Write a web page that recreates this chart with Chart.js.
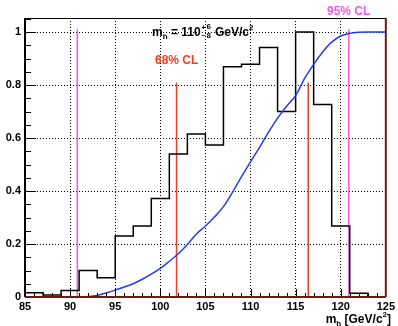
<!DOCTYPE html>
<html>
<head>
<meta charset="utf-8">
<script src="https://cdn.jsdelivr.net/npm/chart.js@4"></script>
<style>
  html, body { margin: 0; padding: 0; background: #fff; }
  canvas { display: block; }
</style>
</head>
<body>
<canvas id="chart" width="398" height="326"></canvas>
<script>
// histogram: left bin edges (2 GeV bins) and heights
const binEdges = [85, 87, 89, 91, 93, 95, 97, 99, 101, 103, 105, 107, 109, 111, 113, 115, 117, 119, 121, 123];
const binValues = [0.016, 0.008, 0.025, 0.10, 0.073, 0.23, 0.268, 0.372, 0.54, 0.615, 0.574, 0.869, 0.878, 0.942, 0.70, 1.0, 0.727, 0.268, 0.014, 0];
const xMax = 125;

// cumulative curve
const curveX = [91.5, 92, 93, 94, 95, 96, 97, 98, 99, 100, 101, 102, 103, 104, 105, 106, 107, 108, 109, 110, 111, 112, 113, 114, 115, 116, 117, 118, 119, 120, 121, 122, 123, 124, 125];
const curveY = [0, 0.002, 0.006, 0.015, 0.026, 0.038, 0.05, 0.067, 0.086, 0.108, 0.135, 0.163, 0.198, 0.238, 0.268, 0.302, 0.341, 0.395, 0.454, 0.51, 0.565, 0.622, 0.675, 0.72, 0.76, 0.825, 0.878, 0.925, 0.962, 0.985, 0.995, 0.999, 1.0, 1.0, 1.0];

// confidence limits
const cl68 = [101.8, 116.4];
const cl68Height = 0.81;
const cl95 = [90.8, 120.9];
const cl95Height = 1.01;

const xTicks = [85, 90, 95, 100, 105, 110, 115, 120, 125];
const yTicks = [0, 0.2, 0.4, 0.6, 0.8, 1];

const font = '"Liberation Sans", Arial, sans-serif';
const red = '#ff3a1c';
const magenta = '#f255f2';

const histData = binEdges.map((x, i) => ({ x: x, y: binValues[i] }));
histData.push({ x: xMax, y: binValues[binValues.length - 1] });

function vline(x, h, color) {
    return {
        data: [{ x: x, y: 0 }, { x: x, y: h }],
        borderColor: color,
        borderWidth: 1.5,
        pointRadius: 0,
        order: 3
    };
}

// draws text pieces in sequence: [text, size, dy, noAdvance]
function drawPieces(ctx, pieces, x, y) {
    let cx = x;
    pieces.forEach(p => {
        ctx.font = 'bold ' + p[1] + 'px ' + font;
        ctx.fillText(p[0], cx, y + (p[2] || 0));
        if (!p[3]) cx += ctx.measureText(p[0]).width;
    });
    return cx;
}
function piecesWidth(ctx, pieces) {
    let w = 0;
    pieces.forEach(p => {
        ctx.font = 'bold ' + p[1] + 'px ' + font;
        if (!p[3]) w += ctx.measureText(p[0]).width;
    });
    return w;
}

const rootFrame = {
    id: 'rootFrame',
    afterDatasetsDraw(chart) {
        const ctx = chart.ctx;
        const a = chart.chartArea;
        const xs = chart.scales.x, ys = chart.scales.y;
        ctx.save();
        // minor + major ticks pointing inward
        ctx.strokeStyle = '#000';
        ctx.lineWidth = 1;
        ctx.beginPath();
        for (let v = 86; v < 125; v++) {
            const px = Math.round(xs.getPixelForValue(v)) + 0.5;
            const len = v % 5 === 0 ? 8 : 4;
            ctx.moveTo(px, a.bottom);
            ctx.lineTo(px, a.bottom - len);
        }
        for (let k = 1; k <= 21; k++) {
            const v = k * 0.05;
            const py = Math.round(ys.getPixelForValue(v)) + 0.5;
            const len = k % 4 === 0 ? 11 : 6;
            ctx.moveTo(a.left, py);
            ctx.lineTo(a.left + len, py);
        }
        ctx.stroke();
        // frame
        ctx.lineWidth = 1;
        ctx.beginPath();
        ctx.moveTo(a.left, a.top + 0.5);
        ctx.lineTo(a.right, a.top + 0.5);
        ctx.stroke();
        ctx.lineWidth = 2;
        ctx.beginPath();
        ctx.moveTo(a.left, a.top);
        ctx.lineTo(a.left, a.bottom);
        ctx.stroke();
        ctx.strokeStyle = '#6a1e12';
        ctx.beginPath();
        ctx.moveTo(a.left, a.bottom);
        ctx.lineTo(a.right, a.bottom);
        ctx.moveTo(a.right, a.top);
        ctx.lineTo(a.right, a.bottom);
        ctx.stroke();

        // texts
        ctx.textBaseline = 'alphabetic';
        ctx.textAlign = 'left';
        ctx.fillStyle = '#000';
        let cx = drawPieces(ctx, [['m', 12], ['h', 8, 3], [' = 110', 12]], 152, 36);
        drawPieces(ctx, [['+', 7, -6, true], ['\u2013', 7, 1]], cx + 1, 36);
        cx += 6;
        drawPieces(ctx, [['6', 8, -7, true], ['8', 8, 2]], cx, 36);
        drawPieces(ctx, [[' GeV/c', 12], ['2', 8, -6]], cx + 5, 36);

        ctx.fillStyle = red;
        ctx.font = 'bold 12px ' + font;
        ctx.fillText('68% CL', 155, 64);
        ctx.fillStyle = magenta;
        ctx.fillText('95% CL', 327, 15);

        ctx.fillStyle = '#000';
        const title = [['m', 12], ['h', 8, 3], [' [GeV/c', 12], ['2', 8, -6], [']', 12]];
        const tw = piecesWidth(ctx, title);
        drawPieces(ctx, title, 391 - tw, 323);
        ctx.restore();
    }
};

new Chart(document.getElementById('chart'), {
    type: 'line',
    data: {
        datasets: [
            {
                data: histData,
                stepped: 'before',
                borderColor: '#000',
                borderWidth: 1.5,
                pointRadius: 0,
                order: 2
            },
            {
                data: curveX.map((x, i) => ({ x: x, y: curveY[i] })),
                borderColor: '#1f3cff',
                borderWidth: 1.5,
                pointRadius: 0,
                cubicInterpolationMode: 'monotone',
                order: 1
            },
            vline(cl95[0], cl95Height, magenta),
            vline(cl95[1], cl95Height, magenta),
            vline(cl68[0], cl68Height, red),
            vline(cl68[1], cl68Height, red)
        ]
    },
    options: {
        responsive: false,
        animation: false,
        devicePixelRatio: 1,
        layout: { padding: { top: 18, right: 10, left: 0, bottom: 0 } },
        plugins: { legend: { display: false }, tooltip: { enabled: false } },
        scales: {
            x: {
                type: 'linear',
                min: 85,
                max: xMax,
                afterBuildTicks: s => { s.ticks = xTicks.map(v => ({ value: v })); },
                afterFit: s => { s.height = 29; },
                ticks: {
                    autoSkip: false,
                    maxRotation: 0,
                    padding: 3,
                    color: '#000',
                    font: { family: font, size: 11, weight: 'bold' }
                },
                grid: {
                    drawTicks: false,
                    color: c => (c.tick && (c.tick.value === 85 || c.tick.value === 125)) ? 'rgba(0,0,0,0)' : '#000',
                    lineWidth: 1
                },
                border: { display: false, dash: [1, 2] }
            },
            y: {
                min: 0,
                max: 1.053,
                afterBuildTicks: s => { s.ticks = yTicks.map(v => ({ value: v })); },
                afterFit: s => { s.width = 25; },
                ticks: {
                    autoSkip: false,
                    padding: 4,
                    color: '#000',
                    font: { family: font, size: 11, weight: 'bold' },
                    callback: v => String(Math.round(v * 10) / 10)
                },
                grid: {
                    drawTicks: false,
                    color: c => (c.tick && c.tick.value === 0) ? 'rgba(0,0,0,0)' : '#000',
                    lineWidth: 1
                },
                border: { display: false, dash: [1, 2] }
            }
        }
    },
    plugins: [rootFrame]
});
</script>
</body>
</html>
